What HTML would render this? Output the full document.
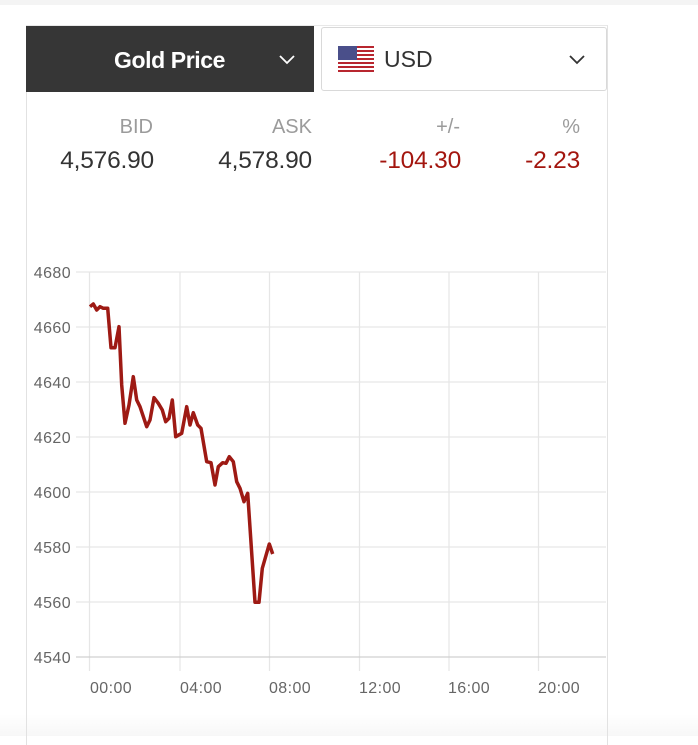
<!DOCTYPE html>
<html><head><meta charset="utf-8">
<style>
html,body{margin:0;padding:0;background:#fff;width:698px;height:736px;overflow:hidden;font-family:"Liberation Sans",Arial,sans-serif;}
.topband{position:absolute;left:0;top:0;width:698px;height:5px;background:#f4f4f4;}
.card{position:absolute;left:26px;top:25px;width:582px;height:720px;border-left:1px solid #e2e2e2;border-right:1px solid #e2e2e2;border-top:1px solid #e8e8e8;box-sizing:border-box;}
.fade{position:absolute;left:0;top:714px;width:698px;height:22px;background:linear-gradient(#ffffff,#f7f7f7);}
.gold{position:absolute;left:26px;top:26px;width:288px;height:66px;background:#363636;}
.gold span{position:absolute;left:88px;top:21px;color:#fff;font-weight:bold;font-size:23px;letter-spacing:-0.4px;}
.usd{position:absolute;left:321px;top:27px;width:286px;height:64px;border:1px solid #d9d9d9;border-radius:3px;box-sizing:border-box;background:#fff;}
.usd span{position:absolute;left:62px;top:18px;color:#333;font-size:23px;}
.lbl{position:absolute;color:#9b9b9b;font-size:20px;text-align:right;width:120px;top:116px;}
.val{position:absolute;font-size:24.5px;text-align:right;width:140px;top:147px;color:#333;letter-spacing:-0.2px;}
.red{color:#a3160f;}
</style></head><body>
<div class="topband"></div>
<div class="fade"></div>
<div class="card"></div>
<div class="gold"><span>Gold Price</span>
<svg style="position:absolute;left:252px;top:28px" width="20" height="12"><polyline points="2,2 9,9 16,2" fill="none" stroke="#fff" stroke-width="1.8"/></svg>
</div>
<div class="usd">
<svg style="position:absolute;left:16px;top:18px" width="36" height="26">
<rect x="0" y="0" width="36" height="26" fill="#fff"/>
<g fill="#b8262f">
<rect x="0" y="0" width="36" height="2"/><rect x="0" y="4" width="36" height="2"/><rect x="0" y="8" width="36" height="2"/><rect x="0" y="12" width="36" height="2"/><rect x="0" y="16" width="36" height="2"/><rect x="0" y="20" width="36" height="2"/><rect x="0" y="24" width="36" height="2"/>
</g>
<rect x="0" y="0" width="19" height="14" fill="#4a4f8a"/>
</svg>
<span>USD</span>
<svg style="position:absolute;left:246px;top:26px" width="20" height="12"><polyline points="2,2 9,9 16,2" fill="none" stroke="#333" stroke-width="1.8"/></svg>
</div>
<div class="lbl" style="left:33px">BID</div>
<div class="lbl" style="left:192px">ASK</div>
<div class="lbl" style="left:340px">+/-</div>
<div class="lbl" style="left:460px">%</div>
<div class="val" style="left:14px">4,576.90</div>
<div class="val" style="left:172px">4,578.90</div>
<div class="val red" style="left:321px">-104.30</div>
<div class="val red" style="left:440px">-2.23</div>

<svg style="position:absolute;left:0;top:0" width="698" height="736">
<g stroke="#e6e6e6" stroke-width="1.2">
<line x1="76" y1="272" x2="606" y2="272"/>
<line x1="76" y1="327" x2="606" y2="327"/>
<line x1="76" y1="382" x2="606" y2="382"/>
<line x1="76" y1="437" x2="606" y2="437"/>
<line x1="76" y1="492" x2="606" y2="492"/>
<line x1="76" y1="547" x2="606" y2="547"/>
<line x1="76" y1="602" x2="606" y2="602"/>
<line x1="89.5" y1="272" x2="89.5" y2="671"/>
<line x1="180" y1="272" x2="180" y2="671"/>
<line x1="269.5" y1="272" x2="269.5" y2="671"/>
<line x1="359.5" y1="272" x2="359.5" y2="671"/>
<line x1="449" y1="272" x2="449" y2="671"/>
<line x1="538.5" y1="272" x2="538.5" y2="671"/>
</g>
<line x1="76" y1="657" x2="606" y2="657" stroke="#d0d0d0" stroke-width="1.2"/>
<g fill="#666" font-family="Liberation Sans, Arial, sans-serif" font-size="16" letter-spacing="0.4" text-anchor="end">
<text x="71" y="278">4680</text>
<text x="71" y="333">4660</text>
<text x="71" y="388">4640</text>
<text x="71" y="443">4620</text>
<text x="71" y="498">4600</text>
<text x="71" y="553">4580</text>
<text x="71" y="608">4560</text>
<text x="71" y="663">4540</text>
</g>
<g fill="#666" font-family="Liberation Sans, Arial, sans-serif" font-size="16" letter-spacing="0.4">
<text x="90" y="693">00:00</text>
<text x="180" y="693">04:00</text>
<text x="269" y="693">08:00</text>
<text x="359" y="693">12:00</text>
<text x="448" y="693">16:00</text>
<text x="538" y="693">20:00</text>
</g>
<polyline fill="none" stroke="#9e1a14" stroke-width="3.5" stroke-linejoin="round" points="
90,306.7 93.3,304 96.7,310 100,306.7 103.3,308.3 107.7,308.3 111,347.7 115,347.7 119,326.7 121.7,385 125,423.3 129,405 133.3,376.7 136.7,400 140,406.7 146.7,426.7 150,420 154,397.7 158.3,403.3 162.3,410 165.7,421.7 169,418.3 172.3,400 175.7,436.7 181.7,433.3 186.7,406.7 190,425 193.3,412.7 197.7,425 201,428.3 206.7,461.7 211,462.7 215,485 218.3,466.7 222.7,462.7 226,463.3 229.3,456.7 233.3,461.7 236.7,481.7 240,488.3 244,501.7 247.7,493.3 255,602.3 259,602.3 262.3,568.3 269.3,544 272.7,554"/>
</svg>
</body></html>
